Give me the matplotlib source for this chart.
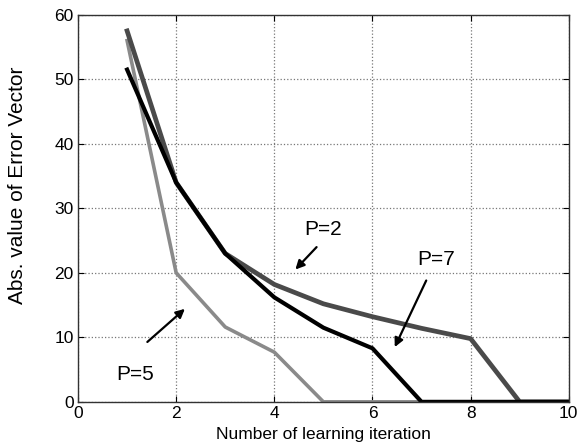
import matplotlib
matplotlib.use("Agg")
import matplotlib.pyplot as plt

plt.rcParams['font.family'] = ['Liberation Sans', 'DejaVu Sans']

iterations = [1, 2, 3, 4, 5, 6, 7, 8, 9, 10]
err_p2 = [57.5, 34.0, 23.0, 18.2, 15.2, 13.2, 11.4, 9.8, 0.0, 0.0]
err_p7 = [51.5, 34.0, 23.0, 16.2, 11.5, 8.3, 0.0, 0.0, 0.0, 0.0]
err_p5 = [56.0, 20.0, 11.6, 7.7, 0.0, 0.0, 0.0, 0.0, 0.0, 0.0]

xticks = [0, 2, 4, 6, 8, 10]
yticks = [0, 10, 20, 30, 40, 50, 60]

fig = plt.figure(figsize=(5.78, 4.48), dpi=100)
ax = fig.add_axes([0.135, 0.103, 0.849, 0.864])

ax.plot(iterations, err_p5, color='#8a8a8a', lw=2.6, solid_joinstyle='round')
ax.plot(iterations, err_p2, color='#4a4a4a', lw=3.4, solid_joinstyle='round')
ax.plot(iterations, err_p7, color='#000000', lw=3.0, solid_joinstyle='round')

ax.set_xlim(0, 10)
ax.set_ylim(0, 60)
ax.set_xticks(xticks)
ax.set_yticks(yticks)
ax.tick_params(direction='in', labelsize=12.5, length=4, top=True, right=True, pad=3)
ax.grid(True, linestyle=':', color='#777777', linewidth=0.9)
for s in ax.spines.values():
    s.set_color('#333333')
    s.set_linewidth(1.0)

ax.set_xlabel('Number of learning iteration', fontsize=12.5, labelpad=4)
ax.set_ylabel('Abs. value of Error Vector', fontsize=15, labelpad=16)
ax.yaxis.set_label_coords(-0.105, 0.56)

arrow = dict(arrowstyle='-|>', color='black', lw=1.6, mutation_scale=13)
ax.annotate('', xy=(4.39, 20.2), xytext=(4.9, 24.3), arrowprops=arrow)
ax.text(5.0, 26.7, 'P=2', fontsize=15, ha='center', va='center')
ax.annotate('', xy=(6.43, 8.1), xytext=(7.12, 19.2), arrowprops=arrow)
ax.text(7.3, 22.0, 'P=7', fontsize=15, ha='center', va='center')
ax.annotate('', xy=(2.22, 14.7), xytext=(1.37, 9.0), arrowprops=arrow)
ax.text(1.16, 4.2, 'P=5', fontsize=15, ha='center', va='center')

fig.savefig('out.png', dpi=100)
